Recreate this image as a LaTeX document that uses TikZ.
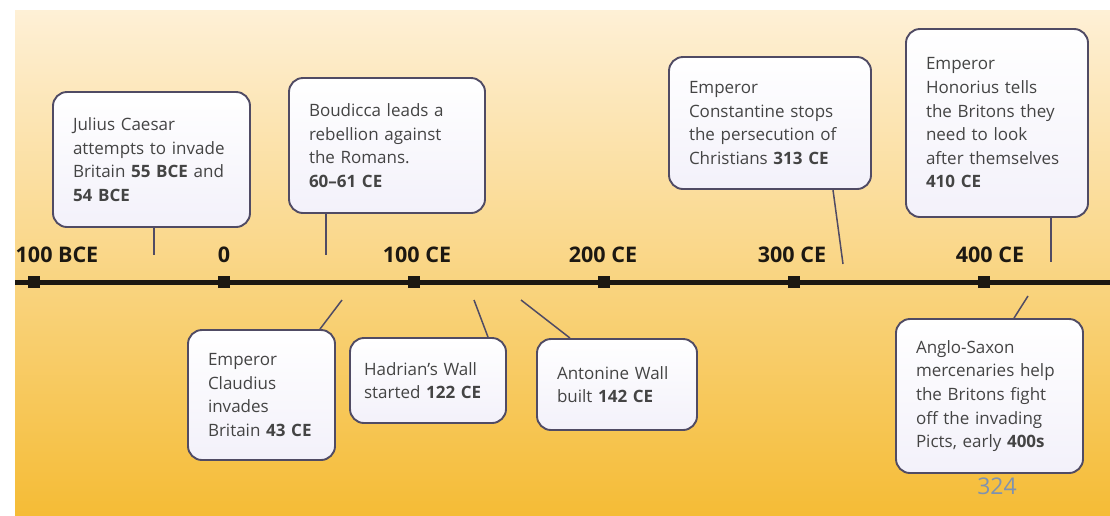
\documentclass[tikz,border=0pt]{standalone}
\usepackage{fontspec}
\setmainfont{Open Sans}
\usetikzlibrary{positioning}

\definecolor{bgtop}{HTML}{FEF0D6}
\definecolor{bgmid}{HTML}{FBD685}
\definecolor{bgbot}{HTML}{F5BC36}
\definecolor{boxline}{HTML}{504B64}
\definecolor{boxbot}{HTML}{F3F1FA}
\definecolor{evtext}{HTML}{444444}
\definecolor{axis}{HTML}{1C1812}
\definecolor{pagenum}{HTML}{7E92B0}

\tikzset{
  event/.style={draw=boxline, line width=1.9pt, rounded corners=14pt,
    top color=white, bottom color=boxbot, text=evtext, align=left,
    inner xsep=20pt, inner ysep=0pt,
    font=\fontsize{17}{23.6}\selectfont},
  tickmark/.style={fill=axis, minimum size=12pt, inner sep=0pt},
  yearlabel/.style={text=axis, font=\bfseries\fontsize{21.5}{21.5}\selectfont},
  leader/.style={draw=boxline, line width=1.5pt}
}

\begin{document}
\begin{tikzpicture}[x=1pt, y=-1pt]
  \useasboundingbox (0,0) rectangle (1110,515);

  % background
  \shade[top color=bgtop, middle color=bgmid, bottom color=bgbot] (15,10) rectangle (1110,515);

  % timeline
  \draw[axis, line width=5pt] (15,282) -- (1110,282);
  \foreach \x/\name in {34/t-100, 224/t0, 414/t100, 604/t200, 794/t300, 984/t400}
    \node[tickmark] (\name) at (\x,282) {};

  \node[yearlabel] (y-100) at (57,255) {100 BCE};
  \node[yearlabel] (y0) at (224,255) {0};
  \node[yearlabel] (y100) at (417,255) {100 CE};
  \node[yearlabel] (y200) at (603,255) {200 CE};
  \node[yearlabel] (y300) at (792,255) {300 CE};
  \node[yearlabel] (y400) at (990,255) {400 CE};

  % events above the line
  \node[event, text width=157pt, minimum height=135pt] (caesar) at (151.5,159.5)
    {Julius Caesar\\attempts to invade\\Britain \textbf{55 BCE} and\\\textbf{54 BCE}};
  \node[event, text width=156pt, minimum height=135pt] (boudicca) at (387,145.5)
    {Boudicca leads a\\rebellion against\\the Romans.\\\textbf{60--61 CE}};
  \node[event, text width=162pt, minimum height=132pt] (constantine) at (770,123)
    {Emperor\\Constantine stops\\the persecution of\\Christians \textbf{313 CE}};
  \node[event, text width=142pt, minimum height=188pt] (honorius) at (997,123)
    {Emperor\\Honorius tells\\the Britons they\\need to look\\after themselves\\\textbf{410 CE}};

  % events below the line
  \node[event, text width=107pt, minimum height=130pt] (claudius) at (261.5,395)
    {Emperor\\Claudius\\invades\\Britain \textbf{43 CE}};
  \node[event, inner xsep=14pt, text width=128pt, minimum height=85pt] (hadrian) at (428,380.5)
    {Hadrian's Wall\\started \textbf{122 CE}};
  \node[event, text width=120pt, minimum height=91pt] (antonine) at (617,384.5)
    {Antonine Wall\\built \textbf{142 CE}};
  \node[event, text width=147pt, minimum height=154pt] (anglo) at (989.5,396)
    {Anglo-Saxon\\mercenaries help\\the Britons fight\\off the invading\\Picts, early \textbf{400s}};

  % leader lines
  \coordinate (caesar-end) at (154,255);
  \coordinate (boudicca-end) at (326,255);
  \coordinate (constantine-end) at (843,264);
  \coordinate (honorius-end) at (1051,262);
  \coordinate (claudius-end) at (342,300);
  \coordinate (hadrian-end) at (474,300);
  \coordinate (antonine-end) at (521,300);
  \coordinate (anglo-end) at (1028,296);

  \draw[leader] ([xshift=2.5pt]caesar.south) -- (caesar-end);
  \draw[leader] ([xshift=-61pt]boudicca.south) -- (boudicca-end);
  \draw[leader] ([xshift=63pt]constantine.south) -- (constantine-end);
  \draw[leader] ([xshift=54pt]honorius.south) -- (honorius-end);
  \draw[leader] ([xshift=58.5pt]claudius.north) -- (claudius-end);
  \draw[leader] ([xshift=60pt]hadrian.north) -- (hadrian-end);
  \draw[leader] ([xshift=-47pt]antonine.north) -- (antonine-end);
  \draw[leader] ([xshift=24.5pt]anglo.north) -- (anglo-end);

  % page number
  \node[text=pagenum, font=\fontsize{23}{23}\selectfont] (page) at (997,486) {324};
\end{tikzpicture}
\end{document}
